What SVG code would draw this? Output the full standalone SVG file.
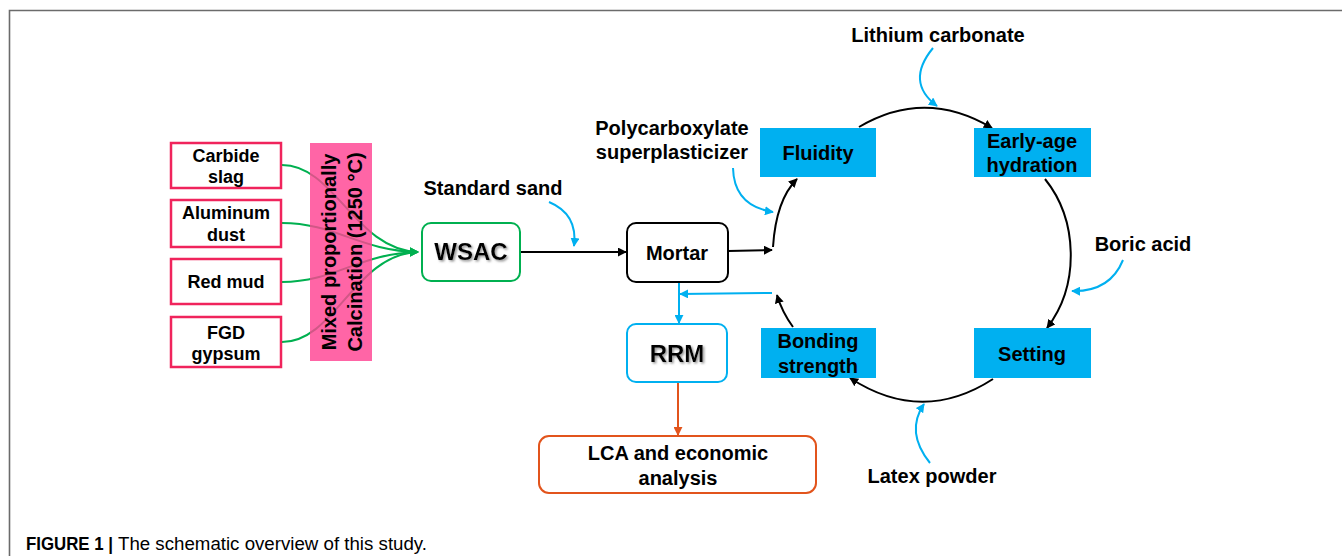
<svg xmlns="http://www.w3.org/2000/svg" width="1342" height="556" viewBox="0 0 1342 556">
<defs>
<style>
text{font-family:"Liberation Sans",Arial,sans-serif;font-weight:bold;fill:#000;}
.lbl{font-size:20px;text-anchor:middle;}
.inp{font-size:18px;text-anchor:middle;}
.inbox{fill:#fff;stroke:#F0245C;stroke-width:2.5;}
.bluebox{fill:#00B0F0;}
.blk{fill:none;stroke:#000;stroke-width:2;}
.blu{fill:none;stroke:#00B0F0;stroke-width:2;}
.grn{fill:none;stroke:#00B050;stroke-width:2;}
.org{fill:none;stroke:#E2541C;stroke-width:2;}
</style>
<marker id="aBlk" viewBox="0 0 10 10" refX="9" refY="5" markerWidth="9" markerHeight="9" markerUnits="userSpaceOnUse" orient="auto"><path d="M0,0 L10,5 L0,10 z" fill="#000"/></marker>
<marker id="aBlu" viewBox="0 0 10 10" refX="9" refY="5" markerWidth="9" markerHeight="9" markerUnits="userSpaceOnUse" orient="auto"><path d="M0,0 L10,5 L0,10 z" fill="#00B0F0"/></marker>
<marker id="aGrn" viewBox="0 0 10 10" refX="9" refY="5" markerWidth="9" markerHeight="9" markerUnits="userSpaceOnUse" orient="auto"><path d="M0,0 L10,5 L0,10 z" fill="#00B050"/></marker>
<marker id="aOrg" viewBox="0 0 10 10" refX="9" refY="5" markerWidth="9" markerHeight="9" markerUnits="userSpaceOnUse" orient="auto"><path d="M0,0 L10,5 L0,10 z" fill="#E2541C"/></marker>
<filter id="shd" x="-20%" y="-20%" width="140%" height="140%"><feDropShadow dx="1.5" dy="1.5" stdDeviation="0.8" flood-color="#888" flood-opacity="0.9"/></filter>
</defs>
<rect x="0" y="0" width="1342" height="556" fill="#fff"/>
<path d="M9.5,556 L9.5,10.5 L1342,10.5" fill="none" stroke="#6b6b6b" stroke-width="1.6"/>

<g id="connectors">
<path class="grn" d="M282,165 C335,165 355,250 418,252" marker-end="url(#aGrn)"/>
<path class="grn" d="M282,223 C335,223 360,251 418,252" marker-end="url(#aGrn)"/>
<path class="grn" d="M282,282 C335,282 360,253 418,252" marker-end="url(#aGrn)"/>
<path class="grn" d="M282,342 C335,342 355,254 418,252" marker-end="url(#aGrn)"/>
<path class="blk" d="M520,252 L626,252" marker-end="url(#aBlk)"/>
<path class="blk" d="M728,251 L772,250" marker-end="url(#aBlk)"/>
<path class="blk" d="M773,247 Q776,200 797,179" marker-end="url(#aBlk)"/>
<path class="blk" d="M859,127 Q925,88 992,128" marker-end="url(#aBlk)"/>
<path class="blk" d="M1045,179 C1078,220 1080,285 1047,328" marker-end="url(#aBlk)"/>
<path class="blk" d="M993,379 Q922,425 850,378" marker-end="url(#aBlk)"/>
<path class="blk" d="M793,327 Q782,312 777,295" marker-end="url(#aBlk)"/>
<path class="blu" d="M772,293 L680,294" marker-end="url(#aBlu)"/>
<path class="blu" d="M679,282 L679,323" marker-end="url(#aBlu)"/>
<path class="org" d="M678,382 L678,435" marker-end="url(#aOrg)"/>
<path class="blu" d="M549,202 Q578,214 574,246" marker-end="url(#aBlu)"/>
<path class="blu" d="M733,168 Q734,206 773,212" marker-end="url(#aBlu)"/>
<path class="blu" d="M933,48 Q905,82 937,106" marker-end="url(#aBlu)"/>
<path class="blu" d="M1123,260 Q1110,292 1072,291" marker-end="url(#aBlu)"/>
<path class="blu" d="M930,463 Q905,432 924,404" marker-end="url(#aBlu)"/>
</g>

<g id="band">
<rect x="310" y="143" width="62" height="218" fill="#FF4392" fill-opacity="0.82"/>
<text class="lbl" transform="translate(336,252) rotate(-90)">Mixed proportionally</text>
<text class="lbl" transform="translate(362,252) rotate(-90)">Calcination (1250 °C)</text>
</g>

<g id="carbide-slag">
<rect class="inbox" x="171" y="143" width="110" height="45"/>
<text class="inp" x="226" y="162">Carbide</text>
<text class="inp" x="226" y="183">slag</text>
</g>
<g id="aluminum-dust">
<rect class="inbox" x="171" y="200" width="110" height="47"/>
<text class="inp" x="226" y="219">Aluminum</text>
<text class="inp" x="226" y="241">dust</text>
</g>
<g id="red-mud">
<rect class="inbox" x="171" y="259" width="110" height="45"/>
<text class="inp" x="226" y="288">Red mud</text>
</g>
<g id="fgd-gypsum">
<rect class="inbox" x="171" y="317" width="110" height="50"/>
<text class="inp" x="226" y="339">FGD</text>
<text class="inp" x="226" y="360">gypsum</text>
</g>

<g id="wsac">
<rect x="422" y="223" width="98" height="58" rx="9" fill="#fff" stroke="#00B050" stroke-width="2"/>
<text x="471" y="260" font-size="24" text-anchor="middle" filter="url(#shd)">WSAC</text>
</g>
<g id="mortar">
<rect x="627" y="223" width="101" height="59" rx="9" fill="#fff" stroke="#000" stroke-width="2"/>
<text class="lbl" x="677" y="260">Mortar</text>
</g>
<g id="rrm">
<rect x="627" y="324" width="100" height="58" rx="9" fill="#fff" stroke="#00B0F0" stroke-width="2"/>
<text x="677" y="362" font-size="24" text-anchor="middle" filter="url(#shd)">RRM</text>
</g>
<g id="lca">
<rect x="539" y="436" width="277" height="57" rx="10" fill="#fff" stroke="#E2541C" stroke-width="2"/>
<text class="lbl" x="678" y="460">LCA and economic</text>
<text class="lbl" x="678" y="485">analysis</text>
</g>

<g id="fluidity">
<rect class="bluebox" x="760" y="128" width="116" height="49"/>
<text class="lbl" x="818" y="160">Fluidity</text>
</g>
<g id="early-age-hydration">
<rect class="bluebox" x="974" y="128" width="117" height="49"/>
<text class="lbl" x="1032" y="148">Early-age</text>
<text class="lbl" x="1032" y="172">hydration</text>
</g>
<g id="setting">
<rect class="bluebox" x="974" y="328" width="117" height="50"/>
<text class="lbl" x="1032" y="361">Setting</text>
</g>
<g id="bonding-strength">
<rect class="bluebox" x="761" y="328" width="115" height="50"/>
<text class="lbl" x="818" y="348">Bonding</text>
<text class="lbl" x="818" y="373">strength</text>
</g>

<g id="standard-sand"><text class="lbl" x="493" y="195">Standard sand</text></g>
<g id="polycarboxylate"><text class="lbl" x="672" y="135">Polycarboxylate</text><text class="lbl" x="672" y="159">superplasticizer</text></g>
<g id="lithium-carbonate"><text class="lbl" x="938" y="42">Lithium carbonate</text></g>
<g id="boric-acid"><text class="lbl" x="1143" y="251">Boric acid</text></g>
<g id="latex-powder"><text class="lbl" x="932" y="483">Latex powder</text></g>

<g id="caption">
<text x="26" y="550" font-size="17.5" textLength="87" lengthAdjust="spacingAndGlyphs">FIGURE 1 |</text>
<text x="118" y="550" font-size="17.5" style="font-weight:normal" fill="#222" textLength="309" lengthAdjust="spacingAndGlyphs">The schematic overview of this study.</text>
</g>
</svg>
